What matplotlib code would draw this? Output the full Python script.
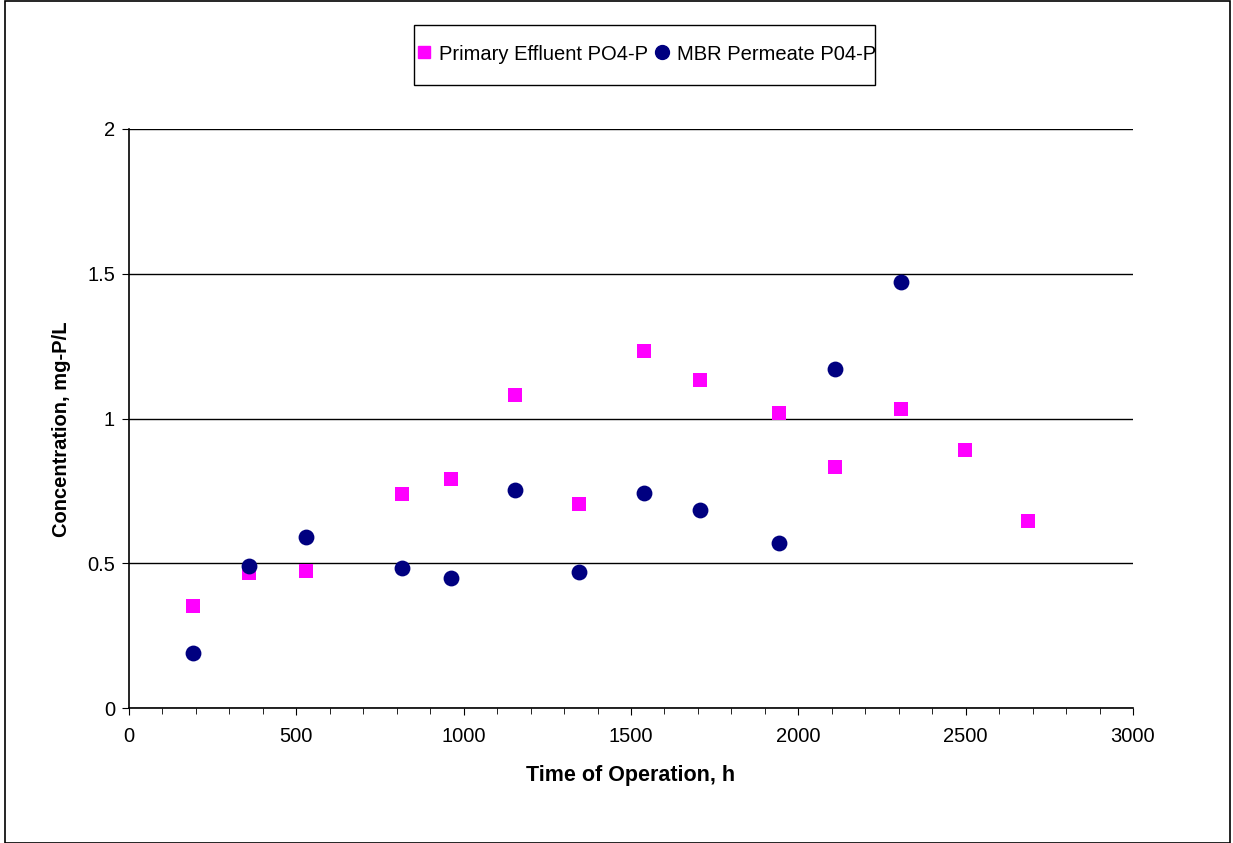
import matplotlib.pyplot as plt
from matplotlib.patches import Rectangle
from matplotlib.lines import Line2D

plt.rcParams['font.family'] = ['Liberation Sans', 'DejaVu Sans']

# Time of operation (h)
time_h = [191, 358, 528, 815, 961, 1152, 1346, 1540, 1707, 1943, 2110, 2307, 2499, 2687]
primary_po4 = [0.352, 0.466, 0.473, 0.739, 0.791, 1.081, 0.705, 1.233, 1.133, 1.019, 0.832, 1.033, 0.891, 0.646]

time_mbr = [191, 358, 528, 815, 961, 1152, 1346, 1540, 1707, 1943, 2110, 2307]
mbr_po4 = [0.190, 0.490, 0.591, 0.484, 0.449, 0.753, 0.470, 0.743, 0.684, 0.570, 1.171, 1.471]

W, H = 1233, 843
fig = plt.figure(figsize=(W / 100, H / 100), dpi=100)
ax = fig.add_axes([129 / W, 1 - 708 / H, (1133 - 129) / W, (708 - 129) / H])

ax.scatter(time_h, primary_po4, marker='s', s=110, color='#FF00FF', zorder=3, linewidths=0)
ax.scatter(time_mbr, mbr_po4, marker='o', s=130, color='#000080', zorder=3, linewidths=0)

ax.set_xlim(0, 3000)
ax.set_ylim(0, 2)
ax.set_xticks([0, 500, 1000, 1500, 2000, 2500, 3000])
ax.set_xticks(range(0, 3001, 100), minor=True)
ax.set_yticks([0, 0.5, 1, 1.5, 2])
ax.set_yticklabels(['0', '0.5', '1', '1.5', '2'])
ax.yaxis.grid(True, color='black', linewidth=1)
ax.set_axisbelow(True)
for side in ['top', 'right']:
    ax.spines[side].set_visible(False)
ax.spines['left'].set_linewidth(1.2)
ax.spines['bottom'].set_linewidth(1.2)
ax.tick_params(axis='both', which='major', direction='out', length=5, labelsize=14.5)
ax.tick_params(axis='y', which='major', pad=5)
ax.tick_params(axis='x', which='major', pad=9)
ax.tick_params(axis='x', which='minor', direction='out', length=4)

ax.set_xlabel('Time of Operation, h', fontsize=15.5, fontweight='bold', labelpad=13)
ax.set_ylabel('Concentration, mg-P/L', fontsize=14.5, fontweight='bold', labelpad=12, y=0.481)

# legend box
fig.patches.append(Rectangle((414 / W, 1 - 85 / H), (875 - 414) / W, 60 / H,
                             transform=fig.transFigure, fill=False,
                             edgecolor='black', linewidth=1))
handles = [
    Line2D([], [], marker='s', linestyle='none', color='#FF00FF', markersize=9),
    Line2D([], [], marker='o', linestyle='none', color='#000080', markersize=10),
]
fig.legend(handles, ['Primary Effluent PO4-P', 'MBR Permeate P04-P'],
           loc='center left', bbox_to_anchor=(416 / W, 1 - 54 / H),
           ncol=2, frameon=False, fontsize=14.5,
           handlelength=0.8, handletextpad=0.35, columnspacing=0.3,
           borderpad=0, borderaxespad=0)

# outer chart border
fig.patches.append(Rectangle((5 / W, 0.0), (1230 - 5) / W, 0.999, transform=fig.transFigure,
                             fill=False, edgecolor='black', linewidth=1.2))

fig.savefig('out.png', dpi=100)
